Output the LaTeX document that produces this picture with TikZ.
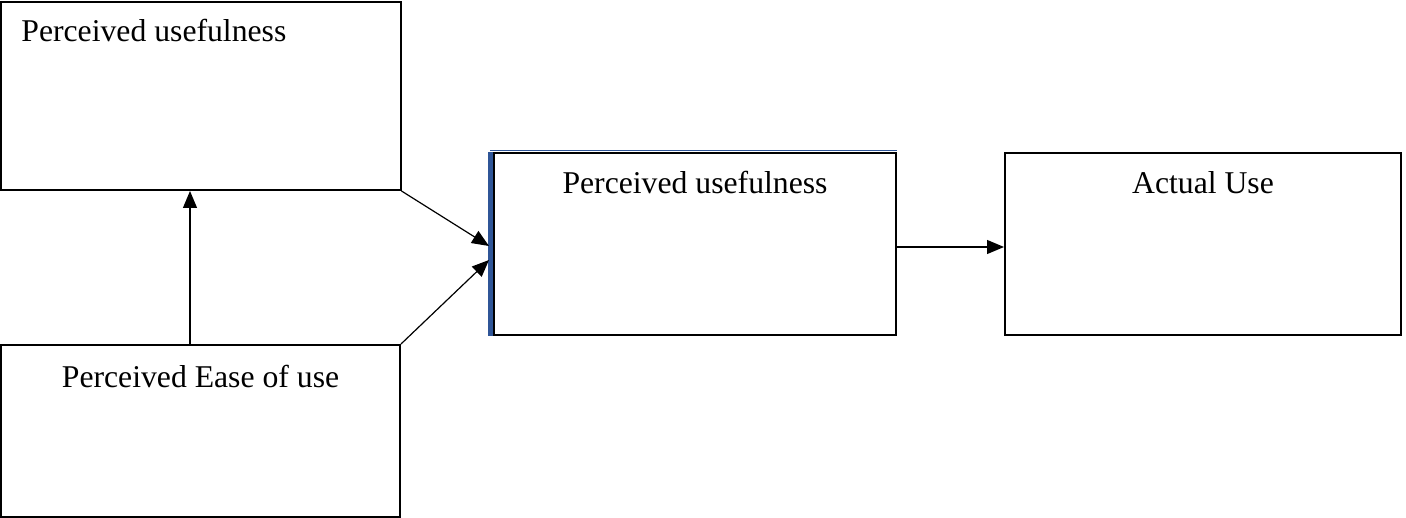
\documentclass[tikz,border=0pt]{standalone}
\usepackage{fontspec}
\setmainfont{Liberation Serif}
\usetikzlibrary{arrows.meta}
\definecolor{edgeblue}{RGB}{47,85,151}
\tikzset{
  box/.style={draw=black, line width=1pt, rectangle, inner sep=0pt},
  lbl/.style={anchor=base, inner sep=0pt, font=\fontsize{15.85pt}{18pt}\selectfont},
  link/.style={draw=black, line width=0.6pt, -{Triangle[length=8.5pt,width=7pt]}},
}
\begin{document}
\begin{tikzpicture}[x=0.5pt, y=-0.5pt]
  \useasboundingbox (0,0) rectangle (1406,518);
  % boxes
  \node[box, minimum width=200pt, minimum height=94pt] (pu1) at (200.5,96) {};
  \node[box, minimum width=199.5pt, minimum height=86pt] (peou) at (200.5,431) {};
  \node[box, minimum width=201pt, minimum height=91pt] (pu2) at (695,244) {};
  \node[box, minimum width=198pt, minimum height=91pt] (use) at (1203,244) {};
  % coloured left edge of the middle box
  \draw[edgeblue, line width=2.5pt] ([xshift=-1.1pt]pu2.north west) -- ([xshift=-1.1pt]pu2.south west);
  \draw[edgeblue, line width=0.5pt] ([xshift=-1.5pt,yshift=0.6pt]pu2.north west) -- ([yshift=0.6pt]pu2.north east);
  % labels
  \node[lbl, anchor=base west] (t1) at (21,42) {Perceived usefulness};
  \node[lbl] (t2) at (200.5,387) {Perceived Ease of use};
  \node[lbl] (t3) at (695,193) {Perceived usefulness};
  \node[lbl] (t4) at (1203,193) {Actual Use};
  % connectors
  \draw[link] ([xshift=-5.25pt]peou.north) -- ([xshift=-5.25pt]pu1.south);
  \draw[link] (pu1.south east) -- ([xshift=-2pt,yshift=-1pt]pu2.west);
  \draw[link] (peou.north east) -- ([xshift=-2pt,yshift=-8pt]pu2.west);
  \draw[link] ([yshift=-1.5pt]pu2.east) -- ([yshift=-1.5pt]use.west);
\end{tikzpicture}
\end{document}
